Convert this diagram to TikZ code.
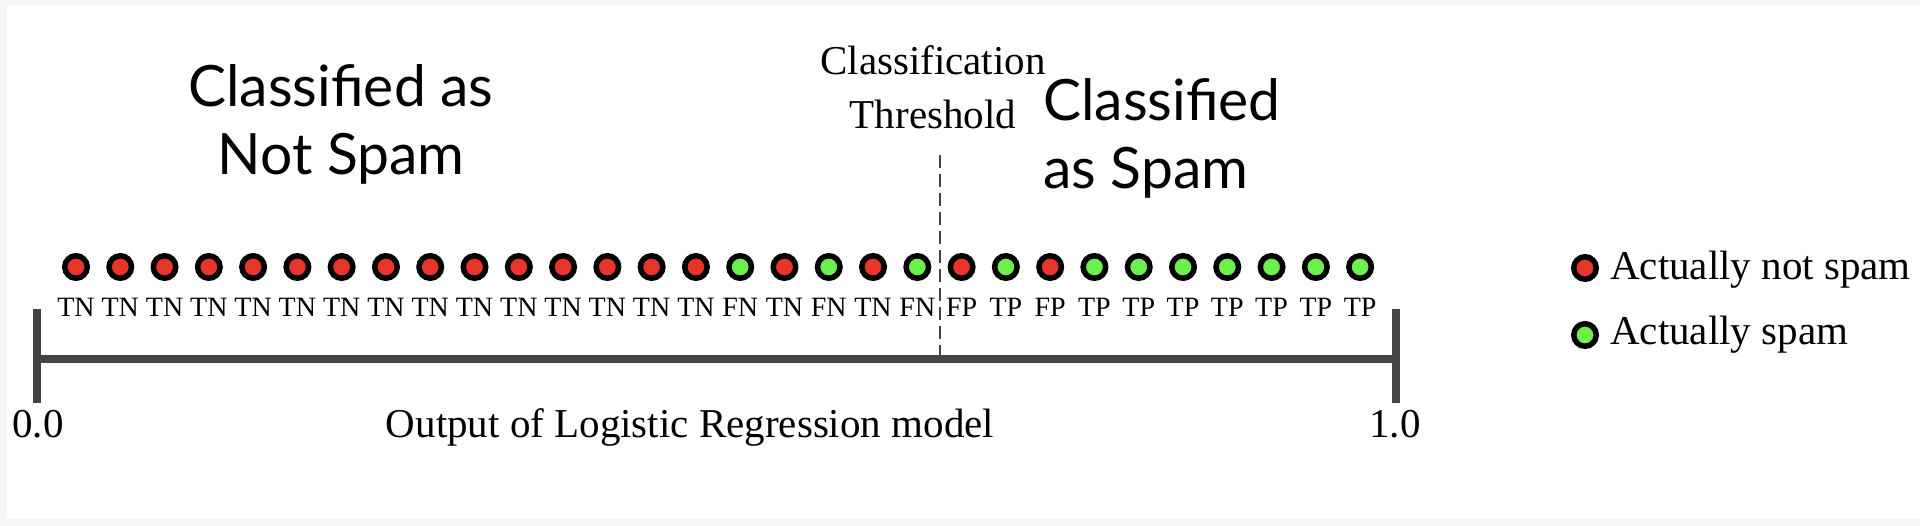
\documentclass[tikz,border=0pt]{standalone}
\usepackage{fontspec}
\setmainfont{Liberation Serif}
\newfontfamily\latofont{Lato}
\usetikzlibrary{positioning}
\definecolor{lrRed}{RGB}{232,53,42}
\definecolor{lrGreen}{RGB}{108,240,76}
\definecolor{lrGray}{RGB}{68,68,68}
\definecolor{lrEdge}{RGB}{246,246,246}
\tikzset{
    base/.style={inner sep=0pt, text=black},
    heading/.style={base, font=\latofont\fontsize{57}{68}\selectfont},
    note/.style={base, font=\fontsize{41}{50}\selectfont},
    tag/.style={base, font=\fontsize{28}{32}\selectfont},
    dot/.style={circle, draw=black, line width=5.5pt, minimum size=22.5pt, inner sep=0pt},
    hamdot/.style={dot, fill=lrRed},
    spamdot/.style={dot, fill=lrGreen},
    axisline/.style={lrGray, line width=8pt},
    threshline/.style={lrGray, line width=2.4pt, dash pattern=on 13pt off 6pt}
}

\begin{document}
\begin{tikzpicture}[x=1pt, y=-1pt]
  \useasboundingbox (0,0) rectangle (1920,526);
  \fill[lrEdge] (0,0) rectangle (1920,526);
  \fill[white] (7,5) rectangle (1920,519);

  % Headings
  \node[heading, align=center, anchor=base] (notspam) at (341,175) {Classified as\\Not Spam};
  \node[heading, align=left, anchor=base west] (spam) at (1043,189) {Classified\\as Spam};

  % Threshold
  \node[note, font=\fontsize{41}{54}\selectfont, align=center, anchor=base] (thtext) at (933,129) {Classification\\Threshold};
  \coordinate (thtop) at (940,155);
  \coordinate (thbot) at (940,355);
  \draw[threshline] (thtop) -- (thbot);

  % Scored emails
  \foreach \s/\t [count=\i] in {hamdot/TN, hamdot/TN, hamdot/TN, hamdot/TN, hamdot/TN,
      hamdot/TN, hamdot/TN, hamdot/TN, hamdot/TN, hamdot/TN, hamdot/TN, hamdot/TN,
      hamdot/TN, hamdot/TN, hamdot/TN, spamdot/FN, hamdot/TN, spamdot/FN, hamdot/TN,
      spamdot/FN, hamdot/FP, spamdot/TP, hamdot/FP, spamdot/TP, spamdot/TP, spamdot/TP,
      spamdot/TP, spamdot/TP, spamdot/TP, spamdot/TP} {
    \pgfmathsetmacro\x{76+44.28*(\i-1)}
    \node[\s] (d\i) at (\x,267) {};
    \node[tag, below=16.5pt of d\i] (t\i) {\t};
  }

  % Axis
  \coordinate (lo) at (37,359);
  \coordinate (hi) at (1396,359);
  \coordinate (lotop) at (37,309);
  \coordinate (lobot) at (37,403);
  \coordinate (hitop) at (1396,309);
  \coordinate (hibot) at (1396,403);
  \draw[axisline] (lo) -- (hi);
  \draw[axisline] (lotop) -- (lobot);
  \draw[axisline] (hitop) -- (hibot);
  \node[note, anchor=base] (zero) at (38,438) {0.0};
  \node[note, anchor=base] (one) at (1395,438) {1.0};
  \node[note, anchor=base] (xlabel) at (690,438) {Output of Logistic Regression model};

  % Legend
  \node[hamdot] (k1) at (1585,268) {};
  \node[note, anchor=base west] (k1t) at (1610,280) {Actually not spam};
  \node[spamdot] (k2) at (1585,335) {};
  \node[note, anchor=base west] (k2t) at (1610,345) {Actually spam};
\end{tikzpicture}
\end{document}
